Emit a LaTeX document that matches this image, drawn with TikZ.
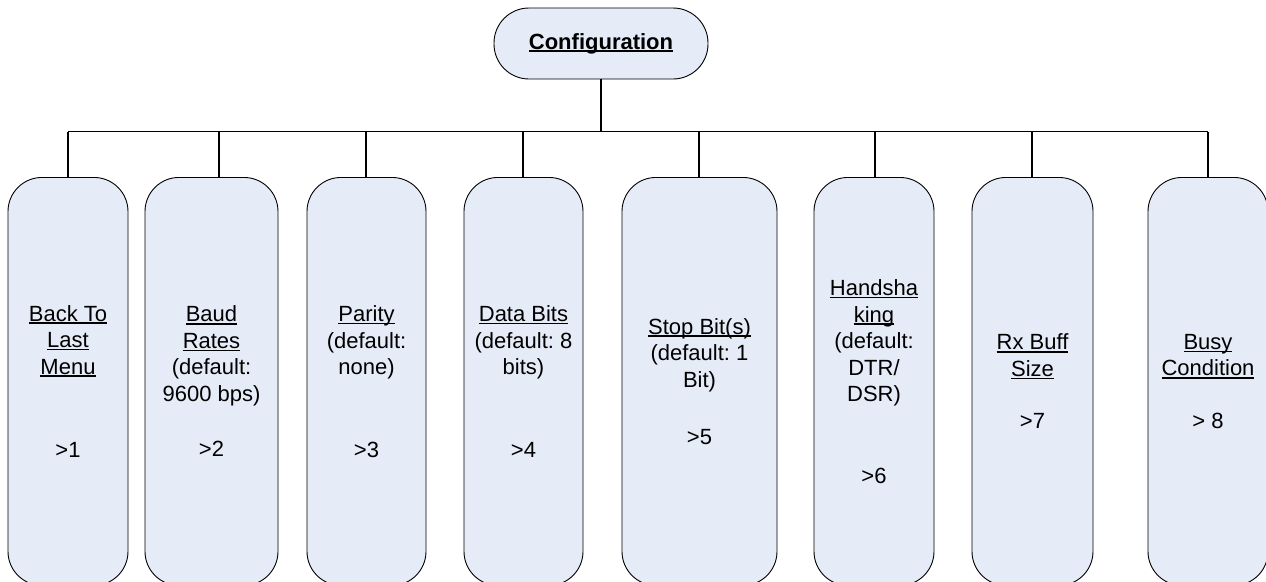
\documentclass[tikz,border=0pt]{standalone}
\usepackage{fontspec}
\setmainfont{Liberation Sans}
\newcommand\myul[1]{\leavevmode\setbox0\hbox{#1}\rlap{\rule[-2.6pt]{\wd0}{1.3pt}}\box0}
\definecolor{boxfill}{RGB}{230,236,247}
\frenchspacing
\begin{document}
\begin{tikzpicture}[x=1pt,y=-1pt,
  menubox/.style={draw=black, line width=0.9pt, fill=boxfill, rounded corners=34pt,
    minimum height=408pt, inner sep=0pt, anchor=north, align=center,
    font=\fontsize{22}{26.5}\selectfont},
  topbox/.style={draw=black, line width=0.9pt, fill=boxfill, rounded corners=35pt,
    minimum width=214pt, minimum height=71pt, inner sep=0pt,
    font=\fontsize{22}{26}\selectfont\bfseries},
  wire/.style={draw=black, line width=1.3pt}]
\useasboundingbox (0,0) rectangle (1266,581);
\clip (0,0) rectangle (1266,581);
\fill[white] (0,0) rectangle (1266,581);

\node[topbox] (top) at (601,43.5) {\myul{Configuration}};

\node[menubox, minimum width=120pt] (b1) at (68,177)
  {\myul{Back To}\\\myul{Last}\\\myul{Menu}\\[57pt]>1};
\node[menubox, minimum width=133pt] (b2) at (211.5,177)
  {\myul{Baud}\\\myul{Rates}\\(default:\\9600 bps)\\[29pt]>2};
\node[menubox, minimum width=119pt] (b3) at (366.5,177)
  {\myul{Parity}\\(default:\\none)\\[56pt]>3};
\node[menubox, minimum width=119pt] (b4) at (523.5,177)
  {\myul{Data Bits}\\(default: 8\\bits)\\[56pt]>4};
\node[menubox, minimum width=155pt] (b5) at (699.5,177)
  {\myul{Stop Bit(s)}\\(default: 1\\Bit)\\[31pt]>5};
\node[menubox, minimum width=120pt] (b6) at (874,177)
  {\myul{Handsha}\\\myul{king}\\(default:\\DTR/\\DSR)\\[55pt]>6};
\node[menubox, minimum width=121pt] (b7) at (1032.5,177)
  {\myul{Rx Buff}\\\myul{Size}\\[26pt]>7};
\node[menubox, minimum width=120pt] (b8) at (1208,177)
  {\myul{Busy}\\\myul{Condition}\\[26pt]> 8};

\coordinate (busL) at (68,131.7);
\coordinate (busR) at (1208,131.7);
\coordinate (s1) at (68,131.7);
\coordinate (s2) at (219,131.7);
\coordinate (s3) at (366,131.7);
\coordinate (s4) at (523,131.7);
\coordinate (s5) at (699,131.7);
\coordinate (s6) at (875,131.7);
\coordinate (s7) at (1032,131.7);
\coordinate (s8) at (1208,131.7);

\draw[wire] (top.south) -- (top.south |- busL);
\draw[wire] (busL) -- (busR);
\foreach \i in {1,...,8} {
  \draw[wire] (s\i) -- (s\i |- b\i.north);
}
\end{tikzpicture}
\end{document}
